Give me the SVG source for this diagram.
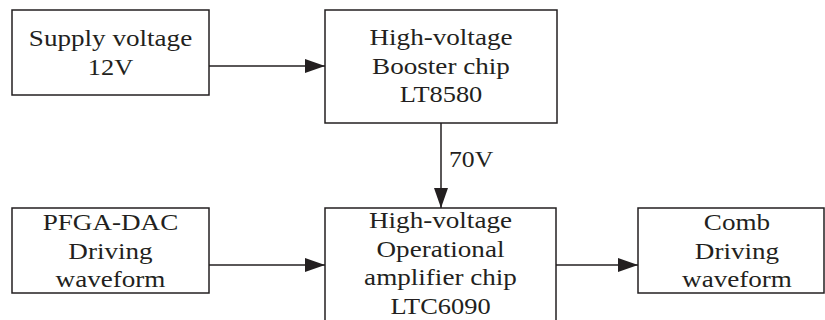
<svg xmlns="http://www.w3.org/2000/svg" width="825" height="320" viewBox="0 0 825 320">
  <style>
    .box { fill: #ffffff; stroke: #231f20; stroke-width: 1.5; }
    .lbl { font-family: 'Liberation Serif', 'Times New Roman', Times, serif; font-size: 24px; fill: #231f20; text-anchor: middle; }
    .wire { stroke: #231f20; stroke-width: 1.5; fill: none; }
  </style>
  <defs>
    <marker id="arrow" markerUnits="userSpaceOnUse" markerWidth="20" markerHeight="14" refX="20" refY="7" orient="auto">
      <path d="M0,0 L20,7 L0,14 Z" fill="#231f20"/>
    </marker>
  </defs>
  <rect width="825" height="320" fill="#ffffff"/>

  <g id="connectors">
    <line class="wire" x1="209" y1="66" x2="325" y2="66" marker-end="url(#arrow)"/>
    <line class="wire" x1="441" y1="123" x2="441" y2="208" marker-end="url(#arrow)"/>
    <line class="wire" x1="209" y1="265" x2="325" y2="265" marker-end="url(#arrow)"/>
    <line class="wire" x1="556" y1="265" x2="638" y2="265" marker-end="url(#arrow)"/>
    <text class="lbl" style="text-anchor:start" transform="translate(449,167) scale(1.07,1)">70V</text>
  </g>

  <g id="supply">
    <rect class="box" x="12" y="10" width="197" height="85"/>
    <text class="lbl" transform="translate(110.5,46) scale(1.13,1)">Supply voltage</text>
    <text class="lbl" transform="translate(110.5,75) scale(1.1,1)">12V</text>
  </g>

  <g id="booster">
    <rect class="box" x="325" y="10" width="232" height="113"/>
    <text class="lbl" transform="translate(441,45) scale(1.13,1)">High-voltage</text>
    <text class="lbl" transform="translate(441,74) scale(1.13,1)">Booster chip</text>
    <text class="lbl" transform="translate(441,102) scale(1.1,1)">LT8580</text>
  </g>

  <g id="pfga">
    <rect class="box" x="12" y="208" width="197" height="85"/>
    <text class="lbl" transform="translate(110.5,230) scale(1.13,1)">PFGA-DAC</text>
    <text class="lbl" transform="translate(110.5,259) scale(1.13,1)">Driving</text>
    <text class="lbl" transform="translate(110.5,287) scale(1.13,1)">waveform</text>
  </g>

  <g id="opamp">
    <rect class="box" x="325" y="208" width="231" height="130"/>
    <text class="lbl" transform="translate(440.5,228) scale(1.13,1)">High-voltage</text>
    <text class="lbl" transform="translate(440.5,257) scale(1.13,1)">Operational</text>
    <text class="lbl" transform="translate(440.5,285) scale(1.13,1)">amplifier chip</text>
    <text class="lbl" transform="translate(440.5,314) scale(1.1,1)">LTC6090</text>
  </g>

  <g id="comb">
    <rect class="box" x="638" y="208" width="186" height="85"/>
    <text class="lbl" transform="translate(737,230) scale(1.13,1)">Comb</text>
    <text class="lbl" transform="translate(737,259) scale(1.13,1)">Driving</text>
    <text class="lbl" transform="translate(737,287) scale(1.13,1)">waveform</text>
  </g>
</svg>
